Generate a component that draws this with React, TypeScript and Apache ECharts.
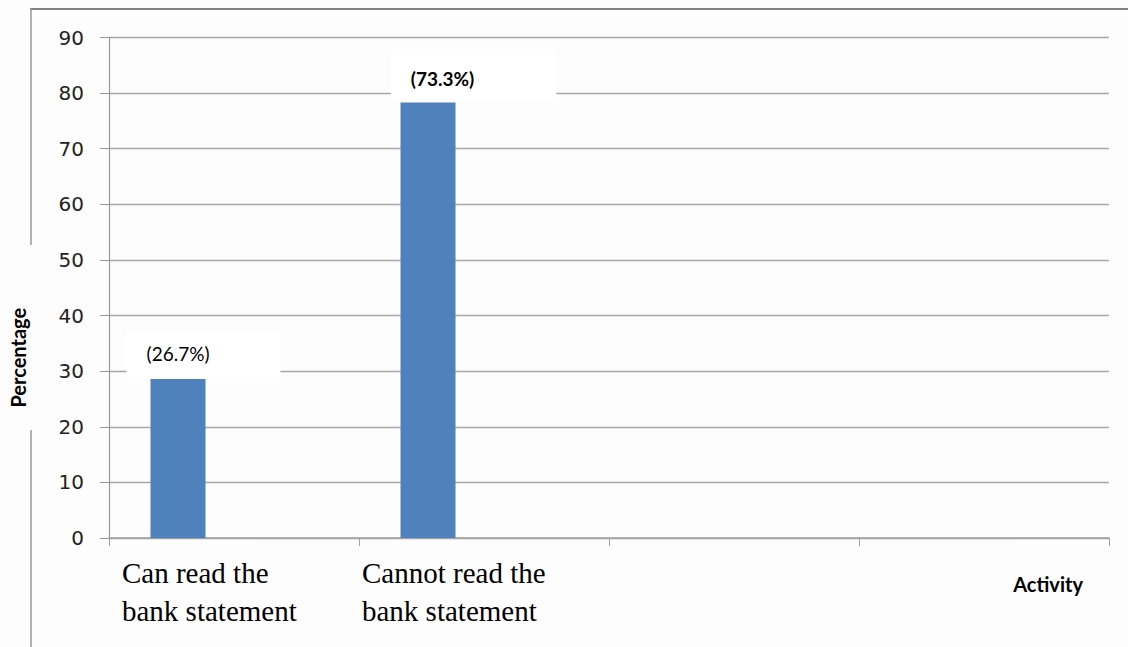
import React, { useEffect, useRef } from "react";
import * as echarts from "echarts";

// ---- data ----
const categories = ["Can read the bank statement", "Cannot read the bank statement", "", ""];
const categoryLabelLines = [
  ["Can read the", "bank statement"],
  ["Cannot read the", "bank statement"],
];
const percentValues: (number | null)[] = [28.6, 78.3, null, null];
const emptySeriesValues: (number | null)[] = [null, null, null, null];
const percentLabels = ["(26.7%)", "(73.3%)"];
const yMin = 0;
const yMax = 90;
const yInterval = 10;
const xAxisName = "Activity";
const yAxisName = "Percentage";

// ---- styles (kept separate from data) ----
const valueLabelStyles = [
  { fontWeight: "normal", padding: [13, 71, 13, 20], offset: [25.5, 0] },
  { fontWeight: "bold", padding: [14, 82, 12, 20], offset: [45.5, 0] },
];
const catLabelPad = [13, 3];

export default function App() {
  const ref = useRef<HTMLDivElement>(null);

  useEffect(() => {
    document.body.style.margin = "0";
    if (!ref.current) return;
    const chart = echarts.init(ref.current, undefined, { renderer: "svg" });

    const rich: Record<string, any> = {};
    catLabelPad.forEach((p, i) => {
      rich["c" + i] = {
        fontFamily: "Liberation Serif",
        fontSize: 29,
        lineHeight: 38,
        color: "#000",
        padding: [0, 0, 0, p],
      };
    });

    const labelAxisData = [...categoryLabelLines.map((l) => l.join("\n")), "", "", ""];

    const option: any = {
      animation: false,
      backgroundColor: "#fdfdfd",
      grid: { left: 108, right: 19, top: 37.5, bottom: 109, containLabel: false },
      xAxis: [
        {
          type: "category",
          data: categories,
          boundaryGap: true,
          axisLine: { show: true, lineStyle: { color: "#a0a0a0", width: 1.5 } },
          axisTick: { show: true, length: 8, interval: 0, lineStyle: { color: "#a0a0a0" } },
          axisLabel: { show: false },
          splitLine: { show: false },
          name: xAxisName,
          nameLocation: "end",
          nameGap: -26,
          nameTextStyle: {
            fontFamily: "Lato",
            fontWeight: "bold",
            fontSize: 20,
            color: "#000",
            align: "right",
            verticalAlign: "top",
            lineHeight: 24,
            padding: [34, 0, 0, 0],
          },
        },
        {
          type: "category",
          data: labelAxisData,
          boundaryGap: false,
          position: "bottom",
          axisLine: { show: false },
          axisTick: { show: false },
          splitLine: { show: false },
          axisLabel: {
            show: true,
            interval: 0,
            align: "left",
            verticalAlign: "top",
            margin: 16,
            formatter: (v: string, i: number) => {
              if (!v) return "";
              return v
                .split("\n")
                .map((line) => `{c${i}|${line}}`)
                .join("\n");
            },
            rich,
          },
        },
      ],
      yAxis: {
        type: "value",
        min: yMin,
        max: yMax,
        interval: yInterval,
        axisLine: { show: true, lineStyle: { color: "#999", width: 1.2 } },
        axisTick: { show: true, length: 9, lineStyle: { color: "#999" } },
        axisLabel: {
          margin: 25,
          fontFamily: "DejaVu Sans",
          fontSize: 20,
          color: "#222",
        },
        splitLine: { show: true, lineStyle: { color: "#a6a6a6", width: 1.3 } },
        name: yAxisName,
        nameLocation: "middle",
        nameRotate: 90,
        nameGap: 91,
        nameTextStyle: {
          fontFamily: "Lato",
          fontWeight: "bold",
          fontSize: 20,
          color: "#000",
          align: "center",
          verticalAlign: "middle",
          padding: [0, 140, 0, 0],
        },
      },
      series: [
        {
          type: "bar",
          xAxisIndex: 0,
          barWidth: 55,
          barGap: "103.6%",
          itemStyle: { color: "#4f81bd" },
          label: {
            show: true,
            position: "top",
            distance: 1,
            backgroundColor: "#ffffff",
            color: "#000",
            fontFamily: "Lato",
            fontSize: 19,
            lineHeight: 22,
          },
          data: percentValues.map((v, i) =>
            v == null
              ? null
              : {
                  value: v,
                  label: {
                    show: true,
                    formatter: percentLabels[i],
                    ...valueLabelStyles[i],
                  },
                }
          ),
        },
        {
          type: "bar",
          xAxisIndex: 0,
          barWidth: 55,
          itemStyle: { color: "#c0504d" },
          data: emptySeriesValues,
        },
      ],
      graphic: [
        {
          type: "line",
          shape: { x1: 30, y1: 9, x2: 1128, y2: 9 },
          style: { stroke: "#808080", lineWidth: 2 },
          silent: true,
        },
        {
          type: "line",
          shape: { x1: 31, y1: 8, x2: 31, y2: 245 },
          style: { stroke: "#999", lineWidth: 1.5 },
          silent: true,
        },
        {
          type: "line",
          shape: { x1: 31, y1: 430, x2: 31, y2: 647 },
          style: { stroke: "#999", lineWidth: 1.5 },
          silent: true,
        },
      ],
    };

    chart.setOption(option);
    return () => chart.dispose();
  }, []);

  return <div ref={ref} style={{ width: 1128, height: 647 }} />;
}
